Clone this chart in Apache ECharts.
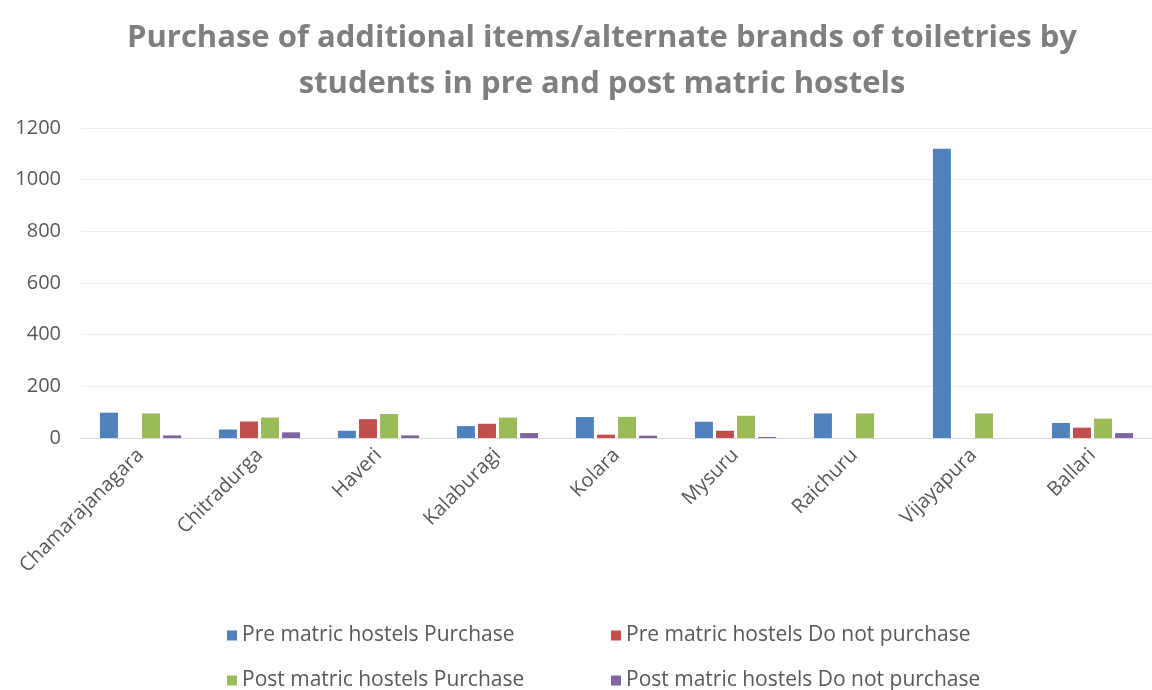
<!DOCTYPE html>
<html>
<head>
<meta charset="utf-8">
<script src="https://cdn.jsdelivr.net/npm/echarts@6/dist/echarts.min.js"></script>
<style>
  html, body { margin: 0; padding: 0; background: #fff; }
  #main { width: 1152px; height: 690px; }
</style>
</head>
<body>
<div id="main"></div>
<script>
var districts = ['Chamarajanagara', 'Chitradurga', 'Haveri', 'Kalaburagi', 'Kolara', 'Mysuru', 'Raichuru', 'Vijayapura', 'Ballari'];
var seriesNames = ['Pre matric hostels Purchase', 'Pre matric hostels Do not purchase', 'Post matric hostels Purchase', 'Post matric hostels Do not purchase'];
var preBuy = [98, 33, 28, 46, 81, 63, 95, 1120, 58];
var preNoBuy = [0, 64, 73, 55, 13, 28, 0, 0, 40];
var postBuy = [95, 79, 93, 79, 82, 86, 95, 95, 75];
var postNoBuy = [10, 22, 10, 19, 9, 4, 0, 0, 19];
var yTicks = [0, 200, 400, 600, 800, 1000, 1200];

var colors = ['#4f81bd', '#c0504d', '#9bbb59', '#8064a2'];
var fontName = '"Open Sans", sans-serif';

var chart = echarts.init(document.getElementById('main'));

var values = [preBuy, preNoBuy, postBuy, postNoBuy];
var series = [];
for (var i = 0; i < seriesNames.length; i++) {
    series.push({
        type: 'bar',
        name: seriesNames[i],
        data: values[i],
        barWidth: 18,
        barGap: '17%',
        itemStyle: { color: colors[i] }
    });
}

// one legend per item so the two columns line up like the original
var legendPos = [[222, 620], [606, 620], [222, 665], [606, 665]];
var legends = [];
for (var j = 0; j < seriesNames.length; j++) {
    legends.push({
        data: [seriesNames[j]],
        left: legendPos[j][0],
        top: legendPos[j][1],
        itemWidth: 10,
        itemHeight: 10,
        itemGap: 6,
        icon: 'rect',
        textStyle: { fontFamily: fontName, fontSize: 21, color: '#595959' }
    });
}

chart.setOption({
    animation: false,
    backgroundColor: '#fff',
    color: colors,
    title: {
        text: 'Purchase of additional items/alternate brands of toiletries by\nstudents in pre and post matric hostels',
        left: 597,
        textAlign: 'center',
        top: 10,
        textStyle: {
            fontFamily: fontName,
            fontSize: 31,
            fontWeight: 'bold',
            color: '#7f7f7f',
            lineHeight: 46
        }
    },
    legend: legends,
    grid: { left: 81, top: 128, width: 1089, height: 310, containLabel: false },
    xAxis: {
        type: 'category',
        data: districts,
        axisTick: { show: false },
        axisLine: { lineStyle: { color: '#d9d9d9' } },
        axisLabel: {
            rotate: 45,
            interval: 0,
            margin: 14,
            fontFamily: fontName,
            fontSize: 20,
            color: '#595959'
        }
    },
    yAxis: {
        type: 'value',
        min: yTicks[0],
        max: yTicks[yTicks.length - 1],
        interval: 200,
        axisLine: { show: false },
        axisTick: { show: false },
        splitLine: { lineStyle: { color: '#eeeeee' } },
        axisLabel: {
            margin: 20,
            fontFamily: fontName,
            fontSize: 20,
            color: '#595959',
            formatter: function(v) { return String(v); }
        }
    },
    series: series
});
</script>
</body>
</html>
